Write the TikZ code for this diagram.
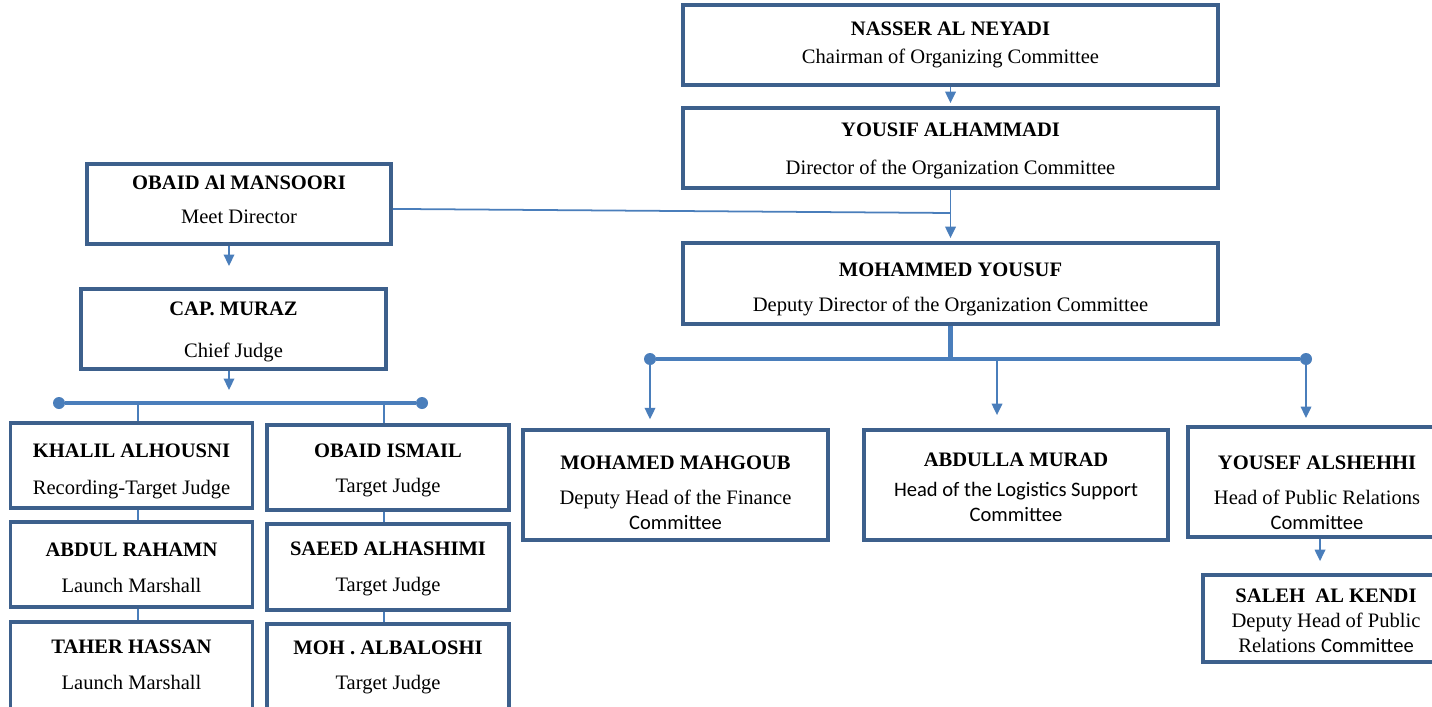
\documentclass[tikz,border=0pt]{standalone}
\usepackage{fontspec}
\setmainfont{Liberation Serif}
\newfontfamily\calibrifont{Carlito}
\usepackage{tikz}
\usetikzlibrary{arrows.meta}
\definecolor{boxBlue}{RGB}{61,96,140}
\definecolor{lineBlue}{RGB}{74,126,187}

\begin{document}
\begin{tikzpicture}[
						x=0.02cm, y=-0.02cm,
						chartBox/.style={rectangle, draw=boxBlue, fill=white, line width=2.2pt, inner sep=0pt, align=center, font=\fontsize{11.7}{14}\selectfont},
						boxTop/.style={chartBox, minimum width=10.7cm, minimum height=1.6cm},
						boxMid/.style={chartBox, minimum width=6.08cm, minimum height=1.6cm},
						boxJudge/.style={chartBox, minimum width=4.84cm, minimum height=1.7cm},
						boxCommittee/.style={chartBox, minimum width=6.08cm, minimum height=2.2cm},
						link/.style={draw=lineBlue, line width=1pt},
						arrowLink/.style={link, -{Triangle[width=6pt,length=6.5pt]}},
						barLink/.style={draw=lineBlue, line width=2.4pt},
						barDot/.style={circle, fill=lineBlue, inner sep=0pt, minimum size=0.24cm}
					]
					
					\clip (0,0) rectangle (1432,706);
					\fill[white] (0,0) rectangle (1432,706);
					
					\node[boxTop] (nasser) at (950.5, 45) {\textbf{NASSER AL NEYADI}\\[1.9pt]Chairman of Organizing Committee};
					\node[boxTop] (yousif) at (950.5, 148) {\rule{0pt}{11.1pt}\textbf{YOUSIF ALHAMMADI}\\[8.1pt]Director of the Organization Committee};
					\node[boxTop, minimum height=1.62cm] (deputy) at (950.5, 283.5) {\rule{0pt}{14.5pt}\textbf{MOHAMMED YOUSUF}\\[6.4pt]Deputy Director of the Organization Committee};
					
					\node[boxMid] (mansoori) at (239, 204) {\textbf{OBAID Al MANSOORI}\\[5.3pt]Meet Director\rule[-5.6pt]{0pt}{5.6pt}};
					\node[boxMid, minimum width=6.1cm] (muraz) at (233.5, 329) {\rule{0pt}{11.1pt}\textbf{CAP. MURAZ}\\[9.8pt]Chief Judge};
					
					\node[boxJudge] (khalil) at (131.5, 465.5) {\rule{0pt}{14.5pt}\textbf{KHALIL ALHOUSNI}\\[7pt]Recording-Target Judge};
					\node[boxJudge] (rahamn) at (131.5, 564.5) {\rule{0pt}{11.1pt}\textbf{ABDUL RAHAMN}\\[6.4pt]Launch Marshall};
					\node[boxJudge, minimum height=1.8cm] (hassan) at (131.5, 667) {\textbf{TAHER HASSAN}\\[6.4pt]Launch Marshall\rule[-2.2pt]{0pt}{2.2pt}};
					\node[boxJudge] (ismail) at (388, 467.5) {\rule{0pt}{11.1pt}\textbf{OBAID ISMAIL}\\[5.8pt]Target Judge};
					\node[boxJudge, minimum height=1.72cm] (alhashimi) at (388, 567) {\rule{0pt}{9.9pt}\textbf{SAEED ALHASHIMI}\\[6.4pt]Target Judge};
					\node[boxJudge, minimum height=1.8cm] (albaloshi) at (388, 669) {\textbf{MOH . ALBALOSHI}\\[6.4pt]Target Judge\rule[-4.4pt]{0pt}{4.4pt}};
					
					\node[boxCommittee, minimum width=6.1cm] (mahgoub) at (675.5, 485) {\rule{0pt}{16.7pt}\textbf{MOHAMED MAHGOUB}\\[5.8pt]Deputy Head of the Finance\\[0.7pt]{\calibrifont Committee}};
					\node[boxCommittee] (murad) at (1016, 485) {\rule{0pt}{9.9pt}\textbf{ABDULLA MURAD}\\[3pt]{\calibrifont Head of the Logistics Support}\\[0.2pt]{\calibrifont Committee}};
					\node[boxCommittee, minimum width=5.16cm] (alshehhi) at (1317, 482) {\rule{0pt}{20.1pt}\textbf{YOUSEF ALSHEHHI}\\[5.8pt]Head of Public Relations\\[0.7pt]{\calibrifont Committee}};
					\node[chartBox, minimum width=4.92cm, minimum height=1.74cm] (alkendi) at (1326, 618.5) {\rule{0pt}{9.9pt}\textbf{SALEH\ \ AL KENDI}\\[0.2pt]Deputy Head of Public\\[0.2pt]Relations {\calibrifont Committee}};
					
					\coordinate (joinTop) at (950.5, 213);
					\coordinate (barMid) at (950.5, 359);
					\coordinate (colMid) at (997, 359);
					\coordinate (colJudge) at (229, 403);
					\coordinate (colA) at (138, 403);
					\coordinate (colB) at (384, 403);
					
					\node[barDot] (dotL1) at (59, 403) {};
					\node[barDot] (dotL2) at (422, 403) {};
					\node[barDot] (dotR1) at (650, 359) {};
					\node[barDot] (dotR2) at (1306, 359) {};
					
					\draw [arrowLink, shorten >=1.7pt] (nasser) to (yousif);
					\draw [arrowLink, shorten >=1.7pt] (yousif) to (deputy);
					\draw [link] ([yshift=-2.8pt]mansoori.east) to (joinTop);
					
					\draw [barLink] (deputy.south) to (barMid);
					\draw [barLink] (dotR1) to (dotR2);
					\draw [arrowLink, shorten >=5pt] (dotR1) to (dotR1 |- mahgoub.north);
					\draw [arrowLink, shorten >=7.4pt] (colMid) to (colMid |- murad.north);
					\draw [arrowLink, shorten >=4pt] (dotR2) to (dotR2 |- alshehhi.north);
					\draw [arrowLink, shorten >=6.8pt] (alshehhi.south -| 1320, 0) to (alkendi.north -| 1320, 0);
					
					\draw [arrowLink, shorten >=12pt] (mansoori.south -| colJudge) to (muraz.north -| colJudge);
					\draw [arrowLink, shorten >=7.4pt] (muraz.south -| colJudge) to (colJudge);
					\draw [barLink] (dotL1) to (dotL2);
					
					\draw [link] (colA) to (colA |- khalil.north);
					\draw [link] (khalil.south -| colA) to (rahamn.north -| colA);
					\draw [link] (rahamn.south -| colA) to (hassan.north -| colA);
					\draw [link] (colB) to (colB |- ismail.north);
					\draw [link] (ismail.south -| colB) to (alhashimi.north -| colB);
					\draw [link] (alhashimi.south -| colB) to (albaloshi.north -| colB);
				\end{tikzpicture}
\end{document}
